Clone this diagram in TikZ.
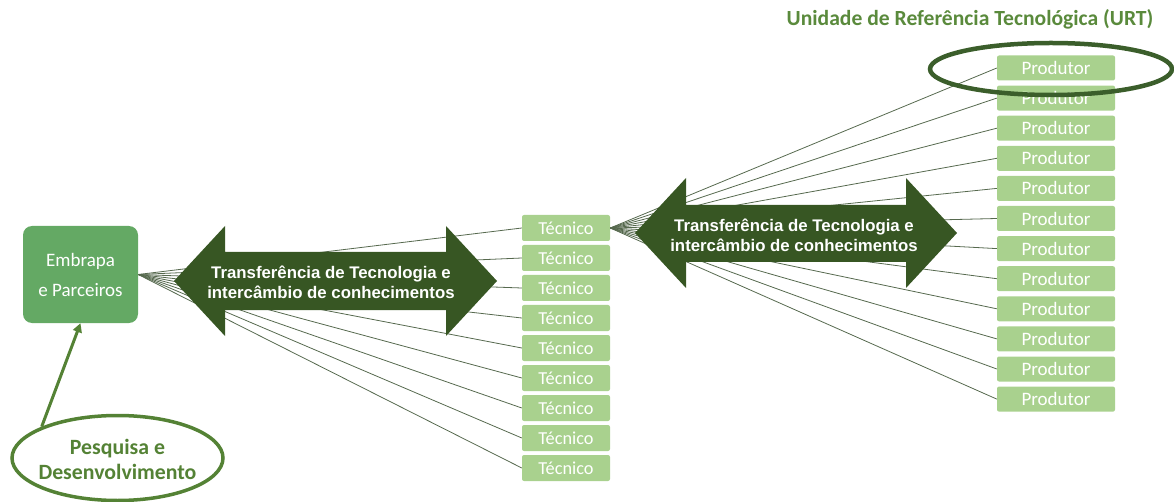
\documentclass[tikz,border=0pt]{standalone}
\usepackage{fontspec}
\setmainfont{Carlito}
\newfontfamily\arialfont{Liberation Sans}
\usetikzlibrary{arrows.meta,shapes.geometric}
\definecolor{embG}{HTML}{64A964}
\definecolor{boxG}{HTML}{A9D18E}
\definecolor{arrowG}{HTML}{375623}
\definecolor{titleG}{HTML}{5A8A3C}
\definecolor{ringG}{HTML}{548235}
\definecolor{darkRing}{HTML}{3B5E2B}
\definecolor{lineG}{HTML}{56694E}
\begin{document}
\begin{tikzpicture}[x=1pt,y=-1pt,
  tecbox/.style={rectangle,rounded corners=2pt,fill=boxG,minimum width=88pt,minimum height=26pt,inner sep=0pt,text=white,font=\fontsize{18.3}{20}\selectfont},
  prodbox/.style={rectangle,rounded corners=2pt,fill=boxG,minimum width=118pt,minimum height=25pt,inner sep=0pt,text=white,font=\fontsize{19}{20}\selectfont},
  conn/.style={draw=lineG,line width=0.8pt},
  bigarrow/.style={fill=arrowG},
  arrowtext/.style={text=white,align=center,inner sep=0pt,font=\arialfont\bfseries\fontsize{16.8}{20}\selectfont}
]
\useasboundingbox (0,0) rectangle (1174,502);

% nodes
\node[rectangle,rounded corners=9pt,fill=embG,minimum width=115pt,minimum height=97pt,inner sep=0pt,text=white,align=center,font=\fontsize{19}{30}\selectfont] (emb) at (80.5,274.5) {Embrapa\\e Parceiros};

\foreach \i in {1,...,9} {
  \node[tecbox] (t\i) at (566,{228+30*(\i-1)}) {Técnico};
}
\foreach \i in {1,...,12} {
  \node[prodbox] (p\i) at (1056,{68+30.1*(\i-1)}) {Produtor};
}

% connectors
\foreach \i in {1,...,9} {
  \draw[conn] (emb.east) -- (t\i.west);
}
\foreach \i in {1,...,12} {
  \draw[conn] (t1.east) -- (p\i.west);
}

% big double arrows
\fill[bigarrow] (174,281) -- (225,226) -- (225,252) -- (446,252) -- (446,226) -- (497,281)
  -- (446,336) -- (446,310) -- (225,310) -- (225,336) -- cycle;
\node[arrowtext] (a1) at (331,282) {Transferência de Tecnologia e\\intercâmbio de conhecimentos};

\fill[bigarrow] (635,233) -- (686,178) -- (686,205) -- (906,205) -- (906,178) -- (957,233)
  -- (906,288) -- (906,262) -- (686,262) -- (686,288) -- cycle;
\node[arrowtext] (a2) at (794,235) {Transferência de Tecnologia e\\intercâmbio de conhecimentos};

% title
\node[text=titleG,inner sep=0pt,font=\bfseries\fontsize{21.6}{24}\selectfont] (title) at (970,19) {Unidade de Referência Tecnológica (URT)};

% URT ellipse
\node[ellipse,draw=darkRing,line width=4.5pt,minimum width=242pt,minimum height=52pt,inner sep=0pt] (urt) at (1051,69) {};

% Pesquisa e Desenvolvimento
\node[ellipse,draw=ringG,line width=3.5pt,minimum width=211pt,minimum height=85pt,inner sep=0pt] (pd) at (117.5,458) {};
\node[text=ringG,align=center,inner sep=0pt,font=\bfseries\fontsize{21.8}{25}\selectfont] (pdtext) at (117.5,459) {Pesquisa e\\Desenvolvimento};
\draw[draw=ringG,line width=3pt,-{Triangle[length=9pt,width=9pt]}] (pd.north west) -- (emb.south);
\end{tikzpicture}
\end{document}
